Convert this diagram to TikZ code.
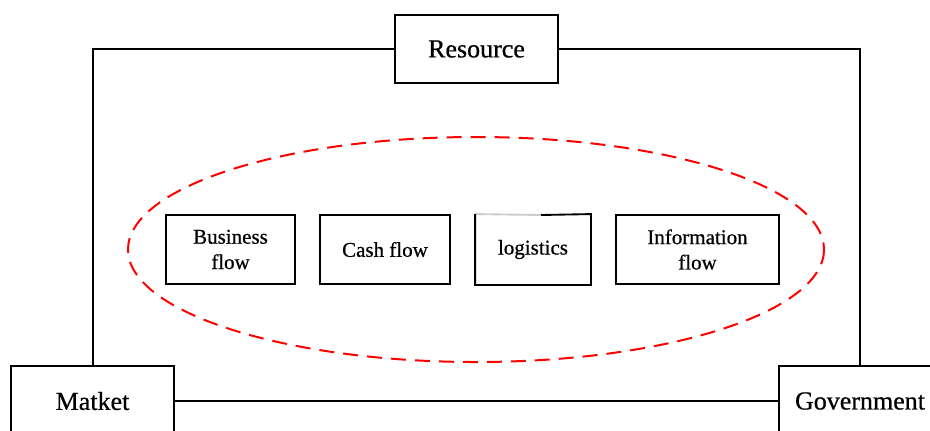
\documentclass[tikz,border=0pt]{standalone}
\usepackage{fontspec}
\setmainfont{Liberation Serif}[FakeBold=0.6]
\begin{document}
\begin{tikzpicture}[x=0.75pt,y=-0.75pt,
  outerbox/.style={draw=black,line width=1.5pt,fill=white,minimum height=70*0.75pt,inner sep=0pt,font=\fontsize{19.5}{22}\selectfont},
  innerbox/.style={draw=black,line width=1.4pt,fill=white,minimum height=69*0.75pt,inner sep=0pt,align=center,font=\fontsize{15.75}{19}\selectfont},
  conn/.style={line width=1.2pt,black}]
\useasboundingbox (0,0) rectangle (930,430);
\clip (0,0) rectangle (930,430);
\draw[red,line width=1.5pt,dash pattern=on 11.25pt off 6.75pt] (476,249.5) ellipse [x radius=348, y radius=112.5];
\node[outerbox,minimum width=163*0.75pt,minimum height=68*0.75pt] (res) at (476.5,49) {Resource};
\node[outerbox,minimum width=163*0.75pt] (mkt) at (92.5,401) {Matket};
\node[outerbox,minimum width=162*0.75pt] (gov) at (860,401) {Government};
\coordinate (tl) at (93,49);
\coordinate (tr) at (860,49);
\draw[conn] (res.west) -- (tl) -- (tl |- mkt.north);
\draw[conn] (res.east) -- (tr) -- (tr |- gov.north);
\draw[conn] (mkt.east) -- (gov.west);
\node[innerbox,minimum width=129*0.75pt] (bus) at (230.5,249.5) {Business\\flow};
\node[innerbox,minimum width=130*0.75pt] (cash) at (385,249.5) {Cash flow};
\node[innerbox,minimum width=114*0.75pt,draw=none] (log) at (533,249.5) {logistics};
\coordinate (lg) at (541,215);
\draw[line width=1.4pt,black!20] (log.north west) -- (lg);
\draw[line width=1.4pt] (lg) -- (log.north east) -- (log.south east) -- (log.south west) -- (log.north west);
\node[innerbox,minimum width=163*0.75pt] (info) at (697.5,249.5) {Information\\flow};
\end{tikzpicture}
\end{document}
